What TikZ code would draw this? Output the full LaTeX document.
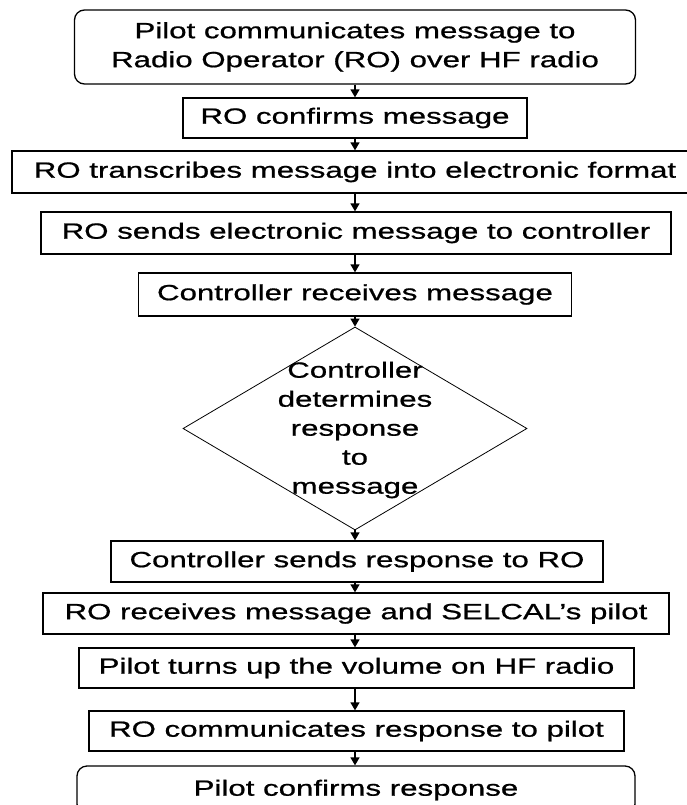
\documentclass[tikz,border=0pt]{standalone}
\usepackage{fontspec}
\setmainfont{Liberation Sans}[FakeStretch=1.42,FakeBold=0.8]
\usetikzlibrary{arrows.meta,shapes.geometric}
\begin{document}
\begin{tikzpicture}[x=1pt,y=-1pt,
  box/.style={draw, line width=1.3pt, inner sep=0pt, align=center, font=\fontsize{22}{29}\selectfont},
  roundbox/.style={box, rounded corners=10pt},
  arr/.style={-{Triangle[width=9pt,length=8pt]}, line width=1.4pt},
  txt/.style={inner sep=0pt, align=center, font=\fontsize{22}{29}\selectfont}]
\useasboundingbox (0,0) rectangle (687,805);
\node[roundbox, minimum width=561pt, minimum height=74pt] (n1) at (355,47) {Pilot communicates message to\\Radio Operator (RO) over HF radio};
\node[box, minimum width=344pt, minimum height=40pt] (n2) at (355,118) {RO confirms message};
\node[box, minimum width=686pt, minimum height=42pt] (n3) at (355,172) {RO transcribes message into electronic format};
\node[box, minimum width=630pt, minimum height=42pt] (n4) at (356,233) {RO sends electronic message to controller};
\node[box, minimum width=433pt, minimum height=43pt] (n5) at (355,294.5) {Controller receives message};
\node[diamond, draw, line width=0.8pt, inner sep=0pt, minimum width=344pt, minimum height=203pt] (n6) at (355,428.5) {};
\node[txt] (t6) at (355,430) {Controller\\determines\\response\\to\\message};
\node[box, minimum width=492pt, minimum height=41pt] (n7) at (357,561.5) {Controller sends response to RO};
\node[box, minimum width=626pt, minimum height=41pt] (n8) at (356,613.5) {RO receives message and SELCAL's pilot};
\node[box, minimum width=555pt, minimum height=40pt] (n9) at (356.5,668) {Pilot turns up the volume on HF radio};
\node[box, minimum width=535pt, minimum height=40pt] (n10) at (356.5,731) {RO communicates response to pilot};
\node[roundbox, minimum width=558pt, minimum height=48pt] (n11) at (356,790) {Pilot confirms response};
\draw[arr] (n1.south -| 355,0) -- (n2.north -| 355,0);
\draw[arr] (n2.south -| 355,0) -- (n3.north -| 355,0);
\draw[arr] (n3.south -| 355,0) -- (n4.north -| 355,0);
\draw[arr] (n4.south -| 355,0) -- (n5.north -| 355,0);
\draw[arr] (n5.south -| 355,0) -- (n6.north);
\draw[arr] (n6.south) -- (n7.north -| 355,0);
\draw[arr] (n7.south -| 355,0) -- (n8.north -| 355,0);
\draw[arr] (n8.south -| 355,0) -- (n9.north -| 355,0);
\draw[arr] (n9.south -| 355,0) -- (n10.north -| 355,0);
\draw[arr] (n10.south -| 355,0) -- (n11.north -| 355,0);
\end{tikzpicture}
\end{document}
